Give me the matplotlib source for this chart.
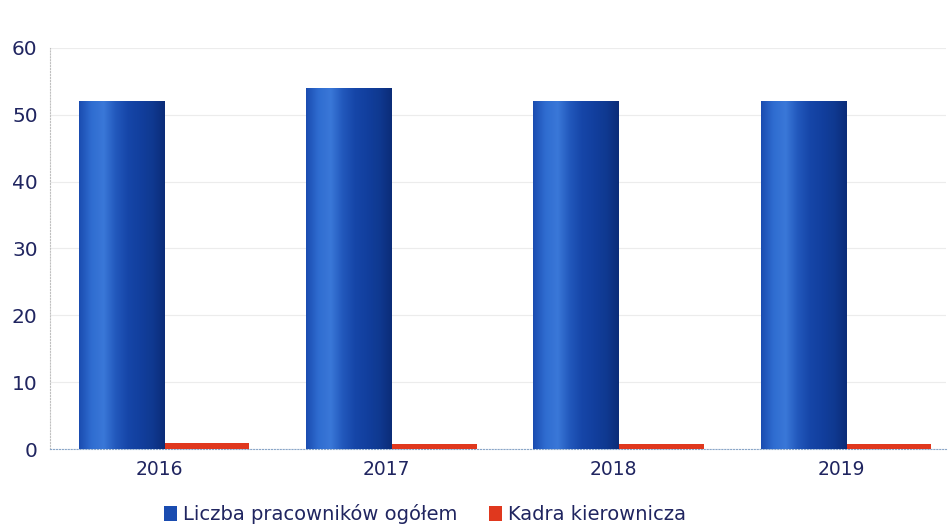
import numpy as np
import matplotlib
matplotlib.use("Agg")
import matplotlib.pyplot as plt
import matplotlib.transforms as mtransforms
from matplotlib.colors import LinearSegmentedColormap
from matplotlib.patches import Patch

years = ["2016", "2017", "2018", "2019"]
ogolem = [52, 54, 52, 52]
kierownicza = [0.9, 0.8, 0.8, 0.8]
series_labels = ["Liczba pracowników ogółem", "Kadra kierownicza"]
yticks = [0, 10, 20, 30, 40, 50, 60]

text_color = "#202560"
fig = plt.figure(figsize=(9.48, 5.27), dpi=100)
ax = fig.add_axes([0.053, 0.148, 0.945, 0.761])

x = np.arange(len(years))
w = 0.375
blue_bars = ax.bar(x - w / 2, ogolem, width=w, color="#1a4cb0", linewidth=0, zorder=3)
red_bars = ax.bar(x + w / 2, kierownicza, width=w, color="#e0381e", linewidth=0, zorder=3)

blue_cmap = LinearSegmentedColormap.from_list(
    "cyl", ["#1a4cb0", "#2f6cd0", "#3a78d8", "#2258bc", "#1646a8", "#123f9e", "#0f3990", "#0b2c78"])
grad = np.linspace(0, 1, 256).reshape(1, -1)
for b in blue_bars:
    x0, y0 = b.get_x(), b.get_y()
    im = ax.imshow(grad, cmap=blue_cmap, aspect="auto", zorder=4,
                   extent=[x0, x0 + b.get_width(), y0, y0 + b.get_height()])
    im.set_clip_path(b)

ax.set_xlim(-0.5, 3.44)
ax.set_ylim(0, 60)
ax.set_yticks(yticks)
ax.set_xticks(x)
ax.set_xticklabels(years)
ax.tick_params(axis="y", length=0, labelsize=14.5, labelcolor=text_color, pad=9)
ax.tick_params(axis="x", length=0, labelsize=13.5, labelcolor=text_color, pad=8)
shift = mtransforms.ScaledTranslation(-5 / 100, 0, fig.dpi_scale_trans)
for lbl in ax.get_xticklabels():
    lbl.set_transform(lbl.get_transform() + shift)
ax.grid(axis="y", color="#ececec", linewidth=0.8, zorder=0)
for s in ["top", "right"]:
    ax.spines[s].set_visible(False)
ax.spines["left"].set_color("#c0c0c0")
ax.spines["left"].set_linestyle(":")
ax.spines["bottom"].set_color("#8aa6c8")
ax.spines["bottom"].set_linestyle(":")

handles = [Patch(facecolor="#1a4cb0"), Patch(facecolor="#e0381e")]
fig.legend(handles, series_labels, loc="center", bbox_to_anchor=(425 / 948, 1 - 514 / 527),
           ncol=2, frameon=False, fontsize=14, labelcolor=text_color,
           handlelength=0.7, handleheight=0.85, handletextpad=0.3, columnspacing=1.6)

fig.savefig("out.png", dpi=100)
